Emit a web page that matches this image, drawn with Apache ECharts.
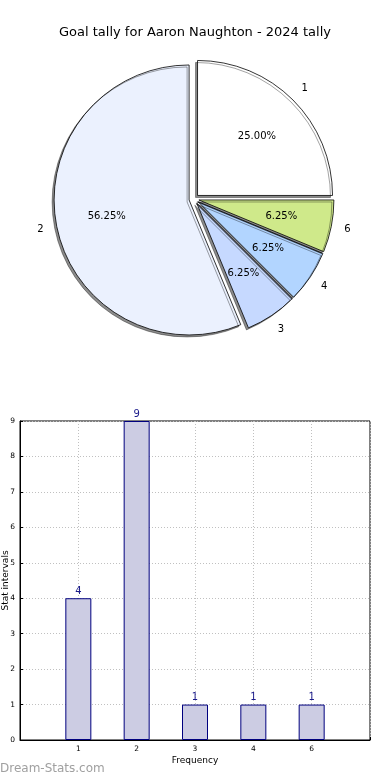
<!DOCTYPE html>
<html>
<head>
<meta charset="utf-8">
<script src="https://cdn.jsdelivr.net/npm/echarts@6/dist/echarts.min.js"></script>
<style>
html,body{margin:0;padding:0;background:#fff;}
#chart{width:390px;height:780px;}
</style>
</head>
<body>
<div id="chart"></div>
<script>
// ---- data ----
const titleText = 'Goal tally for Aaron Naughton - 2024 tally';
const categories = ['1', '2', '3', '4', '6'];
const goals = [4, 9, 1, 1, 1];
const pieOrder = ['2', '3', '4', '6', '1'];
const xAxisName = 'Frequency';
const yAxisName = 'Stat intervals';
const watermark = 'Dream-Stats.com';

// ---- styles ----
const sliceColors = { '1': '#ffffff', '2': '#ebf1fe', '3': '#c6d9ff', '4': '#b2d5ff', '6': '#cfe98a' };
const FONT = 'DejaVu Sans';
const pieCenter = [194, 199];
const pieR = 135;
const explode = 5;

const total = goals.reduce((a, b) => a + b, 0);
const pieData = pieOrder.map(name => {
  const v = goals[categories.indexOf(name)];
  return { name: name, value: v, selected: true, itemStyle: { color: sliceColors[name] } };
});
const overlayData = pieOrder.map(name => {
  const v = goals[categories.indexOf(name)];
  return { name: name, value: v, selected: true };
});

const basePie = {
  type: 'pie',
  center: pieCenter,
  startAngle: 90,
  clockwise: false,
  selectedMode: 'multiple',
  selectedOffset: explode,
  animation: false,
  silent: true,
  emphasis: { disabled: true },
  labelLine: { show: false }
};

const chart = echarts.init(document.getElementById('chart'), null, { renderer: 'canvas' });
chart.setOption({
  animation: false,
  backgroundColor: '#ffffff',
  title: {
    text: titleText,
    left: 'center',
    top: 21,
    textStyle: { fontFamily: FONT, fontSize: 13, fontWeight: 'normal', color: '#000' }
  },
  graphic: [{
    type: 'text',
    left: 0,
    top: 763,
    style: { text: watermark, fill: '#a0a0a0', font: '12px "DejaVu Sans"' }
  }],
  grid: {
    left: 20, right: 20, top: 421, bottom: 40,
    containLabel: false, outerBoundsMode: 'none',
    show: true, borderColor: '#000', borderWidth: 1, backgroundColor: 'transparent'
  },
  xAxis: {
    type: 'value', min: 0, max: 6, interval: 1,
    name: xAxisName, nameLocation: 'middle', nameGap: 16, nameMoveOverlap: false,
    nameTextStyle: { fontFamily: FONT, fontSize: 9, color: '#000' },
    axisLine: { show: true, lineStyle: { color: '#000', width: 1 } },
    axisTick: { show: true, inside: true, length: 3, lineStyle: { color: '#000' } },
    axisLabel: {
      fontFamily: FONT, fontSize: 7.5, color: '#000', margin: 5,
      formatter: v => (v >= 1 && v <= categories.length) ? categories[v - 1] : ''
    },
    splitLine: { show: true, lineStyle: { color: '#c0c0c0', type: [1, 2], width: 1 } }
  },
  yAxis: {
    type: 'value', min: 0, max: 9, interval: 1,
    name: yAxisName, nameLocation: 'middle', nameGap: 10, nameRotate: 90, nameMoveOverlap: false,
    nameTextStyle: { fontFamily: FONT, fontSize: 9, color: '#000' },
    axisLine: { show: true, lineStyle: { color: '#000', width: 1 } },
    axisTick: { show: true, inside: true, length: 3, lineStyle: { color: '#000' } },
    axisLabel: { fontFamily: FONT, fontSize: 7.5, color: '#000', margin: 5 },
    splitLine: { show: true, lineStyle: { color: '#c0c0c0', type: [1, 2], width: 1 } }
  },
  series: [
    Object.assign({}, basePie, {
      name: 'pie',
      radius: pieR,
      data: pieData,
      label: { show: false },
      itemStyle: {
        borderColor: '#000', borderWidth: 0.8,
        shadowColor: 'rgba(0,0,0,0.45)', shadowBlur: 0, shadowOffsetX: -2, shadowOffsetY: 2
      }
    }),
    Object.assign({}, basePie, {
      name: 'pct',
      radius: pieR * 1.2,
      data: overlayData,
      itemStyle: { color: 'rgba(0,0,0,0)', borderWidth: 0 },
      label: {
        show: true, position: 'inside', rotate: 0,
        fontFamily: FONT, fontSize: 10, color: '#000',
        formatter: p => (p.value / total * 100).toFixed(2) + '%'
      }
    }),
    Object.assign({}, basePie, {
      name: 'names',
      radius: pieR * 2.2,
      data: overlayData,
      itemStyle: { color: 'rgba(0,0,0,0)', borderWidth: 0 },
      label: {
        show: true, position: 'inside', rotate: 0,
        fontFamily: FONT, fontSize: 10, color: '#000',
        formatter: p => p.name
      }
    }),
    {
      type: 'bar',
      data: categories.map((c, i) => [i + 1, goals[i]]),
      barWidth: 26,
      itemStyle: { color: '#ccccE3', borderColor: '#00007f', borderWidth: 1 },
      label: {
        show: true, position: 'top', distance: 2,
        fontFamily: FONT, fontSize: 10, color: '#1a1a8a'
      },
      silent: true,
      animation: false
    }
  ]
});
</script>
</body>
</html>
